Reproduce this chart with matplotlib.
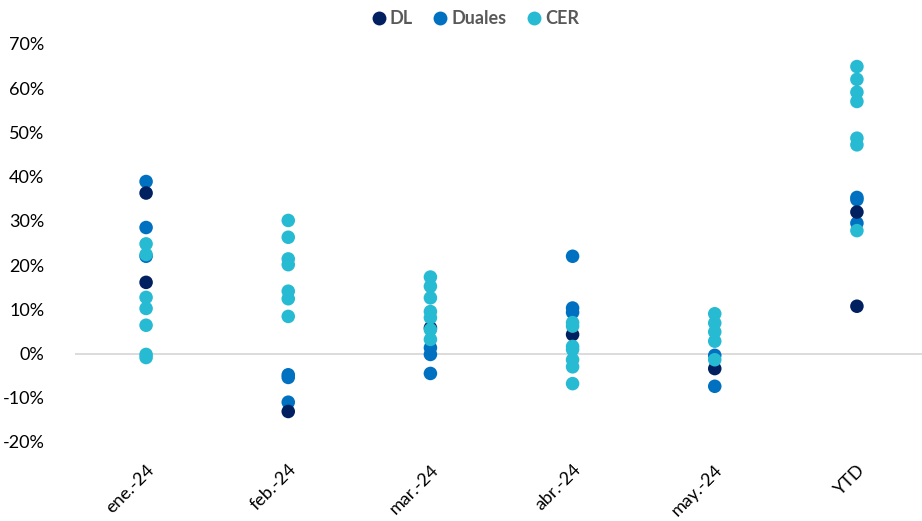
import matplotlib
matplotlib.use("Agg")
import matplotlib.pyplot as plt
from matplotlib.ticker import FuncFormatter
from matplotlib.lines import Line2D

categories = ["ene.-24", "feb.-24", "mar.-24", "abr.-24", "may.-24", "YTD"]

# values in % per category
dl_values = [
    [36.3, 16.1],
    [-13.1],
    [5.8],
    [4.3],
    [-3.4],
    [32.0, 10.7],
]
duales_values = [
    [38.9, 28.5, 22.0],
    [-4.8, -5.4, -11.0],
    [1.3, -0.2, -4.5],
    [22.0, 10.3, 9.3],
    [-0.4, -7.4],
    [35.3, 34.8, 29.5],
]
cer_values = [
    [24.8, 22.4, 12.7, 10.2, 6.4, -0.2, -0.9],
    [30.1, 26.3, 21.4, 20.1, 14.1, 12.4, 8.4],
    [17.3, 15.2, 12.6, 9.5, 8.1, 5.4, 3.2],
    [7.0, 6.2, 1.6, 0.9, -1.4, -3.0, -6.8],
    [9.0, 6.9, 4.9, 2.8, -1.4],
    [64.9, 62.0, 59.1, 57.0, 48.7, 47.2, 27.8],
]
series_names = ["DL", "Duales", "CER"]
colors = {"DL": "#002060", "Duales": "#0070C0", "CER": "#27BAD3"}

plt.rcParams['font.family'] = ['Lato', 'DejaVu Sans']

fig = plt.figure(figsize=(9.22, 5.21), dpi=100)
ax = fig.add_axes([75/922, 1 - 442/521, 853/922, (442 - 44)/521])

data = {"DL": dl_values, "Duales": duales_values, "CER": cer_values}
for name in ["Duales", "DL", "CER"]:
    xs, ys = [], []
    for i, vals in enumerate(data[name]):
        for v in vals:
            xs.append(i)
            ys.append(v / 100)
    ax.scatter(xs, ys, s=95, color=colors[name], edgecolors='none', zorder=3)

ax.axhline(0, color="#D9D9D9", lw=1.3, zorder=1)
ax.set_xlim(-0.5, 5.5)
ax.set_ylim(-0.2, 0.7)
ax.set_yticks([i / 10 for i in range(-2, 8)])
ax.yaxis.set_major_formatter(FuncFormatter(lambda v, p: f"{round(v*100):d}%"))
ax.set_xticks(range(len(categories)))
ax.set_xticklabels(categories, rotation=45, ha='right', rotation_mode='anchor')
for s in ax.spines.values():
    s.set_visible(False)
ax.tick_params(axis='y', length=0, pad=22, labelsize=13, labelcolor="#000000")
ax.tick_params(axis='x', length=0, pad=14, labelsize=13, labelcolor="#000000")

handles = [Line2D([0], [0], marker='o', linestyle='none', markersize=10,
                  markerfacecolor=colors[n], markeredgecolor='none') for n in series_names]
leg = fig.legend(handles, series_names, loc='upper center', bbox_to_anchor=(0.515, 1.012),
                 ncol=3, frameon=False, handlelength=0.9, handletextpad=0.15,
                 columnspacing=1.1, prop={'weight': 'bold', 'size': 13})
for t in leg.get_texts():
    t.set_color("#595959")

fig.savefig("out.png", dpi=100)
